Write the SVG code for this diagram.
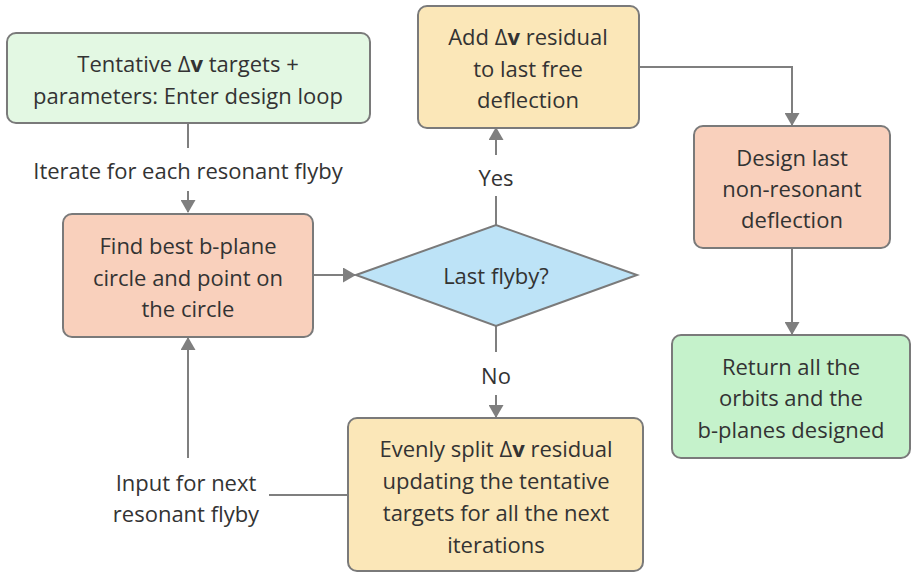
<svg xmlns="http://www.w3.org/2000/svg" width="911" height="573" viewBox="0 0 911 573">
<style>
text{font-family:"Open Sans","Noto Sans","Liberation Sans",sans-serif;font-size:22px;fill:#333;text-anchor:middle;dominant-baseline:central}
.b{stroke:#7a7a7a;stroke-width:2}
.c{fill:none;stroke:#7f7f7f;stroke-width:2}
.bold{font-weight:bold}
</style>
<defs>
<marker id="a" viewBox="0 0 13 15" refX="12" refY="7.5" markerWidth="13" markerHeight="15" markerUnits="userSpaceOnUse" orient="auto">
<path d="M0,0 L13,7.5 L0,15 Z" fill="#7f7f7f"/>
</marker>
</defs>
<rect width="911" height="573" fill="#fff"/>
<g id="connectors">
<path class="c" d="M188,123 V148"/>
<path class="c" d="M188,191 V212" marker-end="url(#a)"/>
<path class="c" d="M313,275 H355" marker-end="url(#a)"/>
<path class="c" d="M496,225 V196"/>
<path class="c" d="M496,155 V128" marker-end="url(#a)"/>
<path class="c" d="M639,67 H792 V125" marker-end="url(#a)"/>
<path class="c" d="M792,248 V334" marker-end="url(#a)"/>
<path class="c" d="M496,326 V352"/>
<path class="c" d="M496,395 V417" marker-end="url(#a)"/>
<path class="c" d="M348,495 H269"/>
<path class="c" d="M188,458 V338" marker-end="url(#a)"/>
<text x="188" y="170">Iterate for each resonant flyby</text>
<text x="496" y="177">Yes</text>
<text x="496" y="375">No</text>
<text x="186" y="482">Input for next</text>
<text x="186" y="513">resonant flyby</text>
</g>
<g id="start">
<rect class="b" x="7" y="33" width="363" height="90" rx="9" fill="#e3f8e3"/>
<text x="188" y="63">Tentative Δ<tspan class="bold">v</tspan> targets +</text>
<text x="188" y="95">parameters: Enter design loop</text>
</g>
<g id="find">
<rect class="b" x="63" y="214" width="250" height="123" rx="9" fill="#f9d0bc"/>
<text x="188" y="245">Find best b-plane</text>
<text x="188" y="277">circle and point on</text>
<text x="188" y="308">the circle</text>
</g>
<g id="decision">
<polygon class="b" points="356,275 496,225 637,275 496,326" fill="#bde3f7"/>
<text x="496" y="275">Last flyby?</text>
</g>
<g id="add">
<rect class="b" x="418" y="6" width="221" height="122" rx="9" fill="#fbe7b8"/>
<text x="528" y="36">Add Δ<tspan class="bold">v</tspan> residual</text>
<text x="528" y="68">to last free</text>
<text x="528" y="99">deflection</text>
</g>
<g id="design">
<rect class="b" x="694" y="126" width="196" height="122" rx="9" fill="#f9d0bc"/>
<text x="792" y="157">Design last</text>
<text x="792" y="188">non-resonant</text>
<text x="792" y="219">deflection</text>
</g>
<g id="return">
<rect class="b" x="672" y="335" width="238" height="123" rx="9" fill="#c5f2cb"/>
<text x="791" y="366">Return all the</text>
<text x="791" y="397">orbits and the</text>
<text x="791" y="429">b-planes designed</text>
</g>
<g id="split">
<rect class="b" x="348" y="418" width="295" height="153" rx="9" fill="#fbe7b8"/>
<text x="496" y="448">Evenly split Δ<tspan class="bold">v</tspan> residual</text>
<text x="496" y="480">updating the tentative</text>
<text x="496" y="512">targets for all the next</text>
<text x="496" y="544">iterations</text>
</g>
</svg>
